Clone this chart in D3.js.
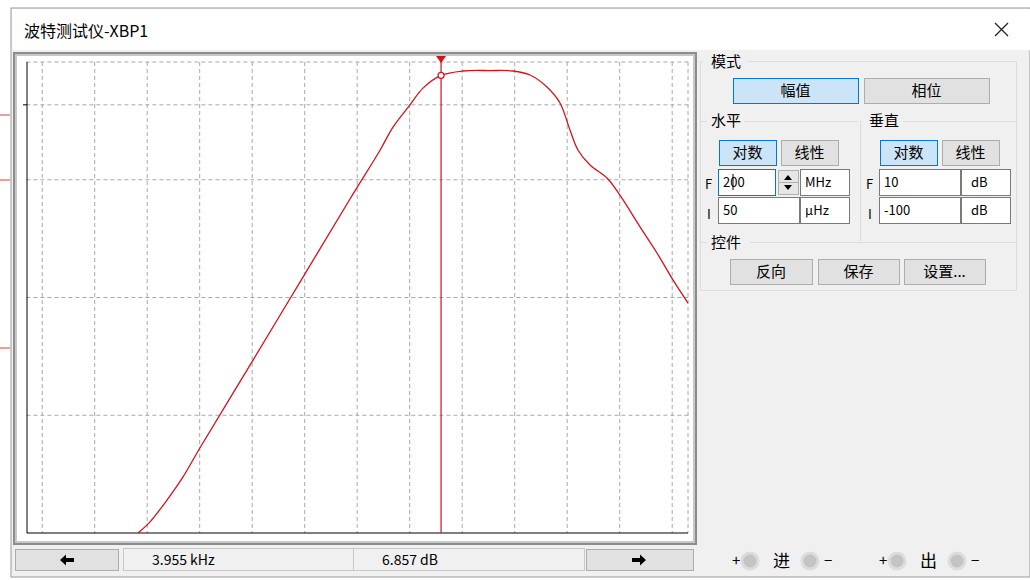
<!DOCTYPE html>
<meta charset="utf-8">
<script src="https://d3js.org/d3.v7.min.js"></script>
<style>
  body { margin: 0; background: #fff; }
  svg text { font-family: "Noto Sans CJK SC", "Noto Sans", sans-serif; }
</style>
<body>
<div id="chart"></div>
<script>
// sweep result read from the plotter (frequency in Hz, gain in dB)
var freqHz = [0.00668, 0.0113, 0.0238, 0.0481, 0.1014, 0.908, 8.13, 72.9, 272, 481, 1014, 1791,
              3955, 10350, 33800, 92900, 195400, 412000, 729000, 1.13e6, 1.61e6, 2.72e6,
              5.73e6, 1.01e7, 2.44e7, 5.13e7, 1.035e8, 2e8]
var gainDb = [-100, -97.4, -92.3, -86.9, -80.1, -60.8, -41.4, -22.0, -10.6, -5.2, 0.0, 3.9,
              6.857, 7.9, 8.0, 7.9, 6.96, 4.16, 0.43, -5.9, -10.6, -14.05,
              -17.1, -21.1, -28.5, -34.6, -40.9, -46.3]

var freqRange = [50e-6, 200e6]   // I = 50 µHz, F = 200 MHz
var dbRange = [10, -100]         // F = 10 dB, I = -100 dB
var gridDecades = [1e-4, 1e-3, 1e-2, 1e-1, 1, 1e1, 1e2, 1e3, 1e4, 1e5, 1e6, 1e7, 1e8, 2e8]
var gridDb = [10, 0, -17.5, -45, -72.5]

var cursorFreq = 3955
var cursorDb = 6.857
var readouts = ["3.955 kHz", "6.857 dB"]

var W = 1030, H = 580
var svg = d3.select("#chart").append("svg").attr("width", W).attr("height", H)

// ---- window chrome
svg.append("rect").attr("x", 0).attr("y", 0).attr("width", W).attr("height", H).attr("fill", "#fff")
;[115, 180, 348].forEach(function (y) {
  svg.append("line").attr("x1", 0).attr("x2", 10).attr("y1", y).attr("y2", y).attr("stroke", "#d04040")
})
svg.append("rect").attr("x", 11).attr("y", 8).attr("width", W - 11).attr("height", 569)
  .attr("fill", "#f0f0f0").attr("stroke", "#9a9a9a")
svg.append("rect").attr("x", 12).attr("y", 9).attr("width", W - 12).attr("height", 41).attr("fill", "#fff")
svg.append("text").attr("x", 24).attr("y", 37).attr("font-size", 16).attr("fill", "#000").text("波特测试仪-XBP1")
svg.append("path").attr("d", "M995,23 L1008,36 M1008,23 L995,36").attr("stroke", "#222").attr("stroke-width", 1.3)

// ---- plot frame
svg.append("rect").attr("x", 13).attr("y", 52).attr("width", 684).attr("height", 493)
  .attr("fill", "#8c8c8c")
svg.append("rect").attr("x", 15).attr("y", 54).attr("width", 680).attr("height", 489)
  .attr("fill", "#c8c8c8")
svg.append("rect").attr("x", 17).attr("y", 56).attr("width", 676).attr("height", 485)
  .attr("fill", "#fff")

var x = d3.scaleLog().domain(freqRange).range([26.4, 688])
var y = d3.scaleLinear().domain(dbRange).range([62, 533])

var grid = svg.append("g").attr("stroke", "#a8a8a8").attr("stroke-dasharray", "4,3")
grid.selectAll("line.v").data(gridDecades).enter().append("line")
  .attr("x1", function (d) { return x(d) }).attr("x2", function (d) { return x(d) })
  .attr("y1", y(10)).attr("y2", y(-100))
grid.selectAll("line.h").data(gridDb).enter().append("line")
  .attr("x1", x(freqRange[0])).attr("x2", x(freqRange[1]))
  .attr("y1", function (d) { return y(d) }).attr("y2", function (d) { return y(d) })

// axes
svg.append("line").attr("x1", 27).attr("x2", 27).attr("y1", y(10)).attr("y2", y(-100)).attr("stroke", "#000")
svg.append("line").attr("x1", 27).attr("x2", x(freqRange[1])).attr("y1", y(-100)).attr("y2", y(-100)).attr("stroke", "#000")
svg.append("line").attr("x1", 23).attr("x2", 27).attr("y1", y(0)).attr("y2", y(0)).attr("stroke", "#000")

// clip for curve
svg.append("clipPath").attr("id", "plotclip").append("rect")
  .attr("x", 27).attr("y", 56).attr("width", 662).attr("height", y(-100) - 56)

var pts = freqHz.map(function (f, i) { return [f, gainDb[i]] })
var line = d3.line().x(function (d) { return x(d[0]) }).y(function (d) { return y(d[1]) })
  .curve(d3.curveCatmullRom.alpha(0.5))
svg.append("path").attr("d", line(pts)).attr("fill", "none").attr("stroke", "#d0141e")
  .attr("stroke-width", 1.3).attr("clip-path", "url(#plotclip)")

// cursor
var cx = x(cursorFreq)
svg.append("line").attr("x1", cx).attr("x2", cx).attr("y1", 57).attr("y2", y(-100))
  .attr("stroke", "#d0141e").attr("stroke-width", 1.2)
svg.append("path").attr("d", "M" + (cx - 5) + ",56 L" + (cx + 5) + ",56 L" + cx + ",63 Z").attr("fill", "#d0141e")
svg.append("circle").attr("cx", cx).attr("cy", y(cursorDb)).attr("r", 3)
  .attr("fill", "#fff").attr("stroke", "#d0141e").attr("stroke-width", 1.2)

// ---- helpers for controls
function button(x0, y0, w, h, label, selected) {
  svg.append("rect").attr("x", x0 + 0.5).attr("y", y0 + 0.5).attr("width", w).attr("height", h)
    .attr("fill", selected ? "#cce4f7" : "#e1e1e1").attr("stroke", selected ? "#0078d7" : "#adadad")
  svg.append("text").attr("x", x0 + w / 2).attr("y", y0 + h / 2 + 5.5).attr("text-anchor", "middle")
    .attr("font-size", 15).attr("fill", "#000").text(label)
}
function field(x0, y0, w, h, label, tx, focused) {
  svg.append("rect").attr("x", x0 + 0.5).attr("y", y0 + 0.5).attr("width", w).attr("height", h)
    .attr("fill", "#fff").attr("stroke", focused ? "#0078d7" : "#7a7a7a")
  svg.append("text").attr("x", x0 + (tx || 5)).attr("y", y0 + h / 2 + 5).attr("font-size", 13)
    .attr("font-family", "Liberation Sans, Arial").attr("fill", "#000").text(label)
}
function groupLabel(x0, y0, label) {
  svg.append("text").attr("x", x0).attr("y", y0).attr("font-size", 15).attr("fill", "#000").text(label)
}

// ---- bottom readout bar
button(15, 549, 103, 21, "", false)
button(586, 549, 107, 21, "", false)
svg.append("path").attr("d", "M60,560 L66,554.5 L66,558 L74,558 L74,562 L66,562 L66,565.5 Z").attr("fill", "#000")
svg.append("path").attr("d", "M646,560 L640,554.5 L640,558 L632,558 L632,562 L640,562 L640,565.5 Z").attr("fill", "#000")
svg.append("rect").attr("x", 123.5).attr("y", 548.5).attr("width", 230).attr("height", 22).attr("fill", "#f0f0f0").attr("stroke", "#c8c8c8")
svg.append("rect").attr("x", 353.5).attr("y", 548.5).attr("width", 231).attr("height", 22).attr("fill", "#f0f0f0").attr("stroke", "#c8c8c8")
svg.append("text").attr("x", 152).attr("y", 565).attr("font-size", 14).attr("font-family", "Liberation Sans, Arial").text(readouts[0])
svg.append("text").attr("x", 382).attr("y", 565).attr("font-size", 14).attr("font-family", "Liberation Sans, Arial").text(readouts[1])

// ---- right panel group boxes
var gl = svg.append("g").attr("stroke", "#dcdcdc").attr("fill", "none")
gl.append("path").attr("d", "M748,61.5 H1016.5 V290.5 H700.5 V61.5 H703")
gl.append("path").attr("d", "M744,121.5 H858")
gl.append("path").attr("d", "M903,121.5 H1016")
gl.append("path").attr("d", "M860.5,121 V241")
gl.append("path").attr("d", "M750,242.5 H1016")
gl.append("path").attr("d", "M700.5,121.5 H707")
gl.append("path").attr("d", "M700.5,242.5 H707")

groupLabel(711, 67, "模式")
button(733, 78, 125, 25, "幅值", true)
button(864, 78, 125, 25, "相位", false)

groupLabel(711, 126, "水平")
groupLabel(869, 126, "垂直")
button(719, 140, 57, 25, "对数", true)
button(781, 140, 57, 25, "线性", false)
button(880, 140, 57, 25, "对数", true)
button(942, 140, 57, 25, "线性", false)

svg.append("text").attr("x", 705).attr("y", 189).attr("font-size", 13).attr("font-family", "Liberation Sans, Arial").text("F")
svg.append("text").attr("x", 707).attr("y", 219).attr("font-size", 13).attr("font-family", "Liberation Serif, serif").text("I")
field(718, 169, 57, 26, "200", 5, true)
svg.append("line").attr("x1", 733).attr("x2", 733).attr("y1", 174).attr("y2", 190).attr("stroke", "#000")
svg.append("rect").attr("x", 778.5).attr("y", 170.5).attr("width", 20).attr("height", 24).attr("fill", "#e6e6e6").attr("stroke", "#b0b0b0")
svg.append("line").attr("x1", 779).attr("x2", 798).attr("y1", 182.5).attr("y2", 182.5).attr("stroke", "#b0b0b0")
svg.append("path").attr("d", "M784,180 L792,180 L788,175 Z").attr("fill", "#000")
svg.append("path").attr("d", "M784,185 L792,185 L788,190 Z").attr("fill", "#000")
field(800, 169, 49, 26, "MHz", 5)
field(718, 197, 81, 26, "50", 5)
field(800, 197, 49, 26, "µHz", 5)

svg.append("text").attr("x", 866).attr("y", 189).attr("font-size", 13).attr("font-family", "Liberation Sans, Arial").text("F")
svg.append("text").attr("x", 868).attr("y", 219).attr("font-size", 13).attr("font-family", "Liberation Serif, serif").text("I")
field(879, 169, 81, 26, "10", 5)
field(961, 169, 49, 26, "dB", 10)
field(879, 197, 81, 26, "-100", 5)
field(961, 197, 49, 26, "dB", 10)

groupLabel(711, 248, "控件")
button(730, 259, 82, 25, "反向", false)
button(818, 259, 81, 25, "保存", false)
button(904, 259, 81, 25, "设置...", false)

// ---- terminals
function terminal(xp, label) {
  svg.append("text").attr("x", xp).attr("y", 566).attr("font-size", 15).attr("font-family", "DejaVu Sans").text("+")
  svg.append("circle").attr("cx", xp + 18).attr("cy", 561).attr("r", 8).attr("fill", "#c4c4c4").attr("stroke", "#dcdcdc").attr("stroke-width", 3)
  svg.append("text").attr("x", xp + 41).attr("y", 567).attr("font-size", 17).text(label)
  svg.append("circle").attr("cx", xp + 78).attr("cy", 561).attr("r", 8).attr("fill", "#c4c4c4").attr("stroke", "#dcdcdc").attr("stroke-width", 3)
  svg.append("text").attr("x", xp + 92).attr("y", 566).attr("font-size", 15).attr("font-family", "DejaVu Sans").text("−")
}
terminal(732, "进")
terminal(879, "出")
</script>
</body>
